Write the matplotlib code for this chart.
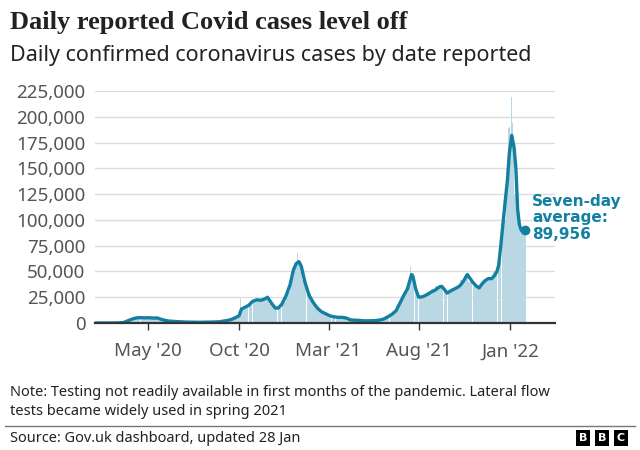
import pandas as pd
import matplotlib.pyplot as plt
import matplotlib.dates as mdates
from matplotlib.ticker import FuncFormatter
from matplotlib.lines import Line2D

# Seven-day average
avg_dates = [
    "2020-02-01", "2020-02-29", "2020-03-14", "2020-03-21", "2020-03-28",
    "2020-04-04", "2020-04-11", "2020-04-18", "2020-04-25", "2020-05-02",
    "2020-05-09", "2020-05-16", "2020-05-23", "2020-05-30", "2020-06-06",
    "2020-06-20", "2020-07-04", "2020-07-25", "2020-08-15", "2020-08-29",
    "2020-09-12", "2020-09-19", "2020-09-26", "2020-10-01", "2020-10-05",
    "2020-10-10", "2020-10-17", "2020-10-24", "2020-10-31", "2020-11-07",
    "2020-11-14", "2020-11-18", "2020-11-25", "2020-12-01", "2020-12-06",
    "2020-12-12", "2020-12-19", "2020-12-26",
    "2021-01-01", "2021-01-06", "2021-01-10", "2021-01-14", "2021-01-20",
    "2021-01-27", "2021-02-03", "2021-02-10", "2021-02-17", "2021-02-24",
    "2021-03-03", "2021-03-10", "2021-03-17", "2021-03-24", "2021-03-31",
    "2021-04-07", "2021-04-14", "2021-04-21", "2021-04-28", "2021-05-05",
    "2021-05-12", "2021-05-19", "2021-05-26", "2021-06-02", "2021-06-09",
    "2021-06-16", "2021-06-23", "2021-06-30", "2021-07-07", "2021-07-12",
    "2021-07-15", "2021-07-19", "2021-07-21", "2021-07-26", "2021-07-31",
    "2021-08-07", "2021-08-14", "2021-08-21", "2021-08-28", "2021-09-04",
    "2021-09-08", "2021-09-11", "2021-09-17", "2021-09-24", "2021-10-01",
    "2021-10-06", "2021-10-10", "2021-10-15", "2021-10-21", "2021-10-26",
    "2021-10-31", "2021-11-05", "2021-11-10", "2021-11-15", "2021-11-20",
    "2021-11-25", "2021-12-01", "2021-12-06", "2021-12-10", "2021-12-13",
    "2021-12-16", "2021-12-20", "2021-12-24", "2021-12-28", "2021-12-31",
    "2022-01-04", "2022-01-08", "2022-01-11", "2022-01-14", "2022-01-17",
    "2022-01-20", "2022-01-24", "2022-01-27",
]
avg_values = [
    0, 20, 150, 600, 2300,
    3900, 5000, 5200, 5000, 5100,
    4800, 4900, 3500, 2400, 1800,
    1300, 900, 700, 900, 1200,
    2500, 3600, 5500, 7000, 13500,
    15000, 17000, 21000, 22500, 22000,
    23500, 25000, 19000, 14500, 14500,
    18000, 26000, 37000,
    52000, 58000, 59500, 55000, 40000,
    27000, 20000, 14500, 11000, 9000,
    7000, 6000, 5500, 5500, 4800,
    3000, 2700, 2600, 2200, 2100,
    2200, 2300, 2800, 3800, 6000,
    8500, 12000, 20000, 28000, 33000,
    39000, 47000, 46000, 33000, 25000,
    25500, 27500, 30000, 32000, 35000,
    35500, 33500, 29000, 31500, 33500,
    35000, 37000, 41000, 47000, 43000,
    39000, 36000, 34000, 38000, 41000,
    43000, 43000, 46000, 50000, 56000,
    72000, 95000, 118000, 140000, 165000,
    182000, 170000, 150000, 110000, 95000,
    90000, 89000, 89956,
]

# Daily cases shown as weekly blocks (one value per week from 1 Feb 2020)
bar_start = "2020-02-01"
bar_values = [
    0, 0, 0, 10, 40, 150, 400, 1500, 3000,                      # Feb-Mar 20
    4500, 5000, 5000, 5000, 4800, 4500, 3500, 2500, 1800,       # Apr-May 20
    1500, 1200, 1100, 900, 750, 650, 700, 750,                  # Jun-Jul 20
    850, 1000, 1100, 1200, 1500, 2800, 3500, 4800, 6500,        # Aug-Sep 20
    15000, 16500, 20000, 22500, 23000, 24000, 25000, 18500,     # Oct-Nov 20
    14500, 15500, 20500, 30000, 45000,                          # Dec 20
    58000, 57000, 42000, 29000, 20000, 14500, 11000, 9000,      # Jan-Feb 21
    7000, 6000, 5500, 5500, 4500, 3000, 2700, 2500, 2200,       # Mar-Apr 21
    2200, 2300, 2400, 3000, 4500, 6500, 8500, 12000, 19000,     # May-Jun 21
    27000, 35000, 45000, 32000, 25500, 27000, 30000, 33000,     # Jul-Aug 21
    36000, 35000, 30000, 30500, 34000, 36000, 42000, 46000,     # Sep-Oct 21
    40000, 36000, 35000, 39000, 42000, 44000,                   # Oct-Nov 21
    50000, 62000, 100000, 150000, 180000, 125000, 92000, 88000  # Dec 21-Jan 22
]

# Single days that stand out above the average
spike_dates = ["2020-10-04", "2020-11-12", "2021-01-08", "2021-07-17",
               "2021-12-29", "2021-12-31", "2022-01-04", "2022-01-05"]
spike_values = [22961, 33470, 68053, 54674, 189000, 190000, 218724, 194000]

line_col = "#1380A1"
bar_col = "#b9d8e3"
sans = ["Noto Sans", "DejaVu Sans"]

plt.rcParams["font.family"] = sans

fig = plt.figure(figsize=(6.4, 4.5), dpi=100)
ax = fig.add_axes([95 / 640, 1 - 323 / 450, 460 / 640, 232 / 450])

bar_dates = pd.date_range(bar_start, periods=len(bar_values), freq="7D")
ax.bar(bar_dates, bar_values, width=6.6, align="edge", color=bar_col,
       linewidth=0, zorder=2)
ax.bar(pd.to_datetime(spike_dates), spike_values, width=1.2, color=bar_col,
       linewidth=0, zorder=2)

avg_x = pd.to_datetime(avg_dates)
ax.plot(avg_x, avg_values, color=line_col, lw=2.4, solid_joinstyle="round",
        solid_capstyle="round", zorder=4)
ax.plot(avg_x[-1], avg_values[-1], "o", color=line_col, ms=6, zorder=5)

ax.text(avg_x[-1] + pd.Timedelta(days=11), avg_values[-1] + 12000,
        "Seven-day\naverage:\n{:,}".format(avg_values[-1]),
        color=line_col, fontsize=11, fontweight="bold", va="center",
        ha="left", linespacing=1.15, zorder=6, family=["DejaVu Sans"])

ax.set_xlim(pd.Timestamp("2020-02-01"), pd.Timestamp("2022-03-18"))
ax.set_ylim(0, 225000)
ax.set_yticks(range(0, 225001, 25000))
ax.yaxis.set_major_formatter(FuncFormatter(lambda v, p: "{:,.0f}".format(v)))
ax.grid(axis="y", color="#dddddd", lw=1, zorder=0)
ax.set_axisbelow(True)

ticks = pd.to_datetime(["2020-05-01", "2020-10-01", "2021-03-01",
                        "2021-08-01", "2022-01-01"])
ax.set_xticks(ticks)
ax.xaxis.set_major_formatter(mdates.DateFormatter("%b '%y"))

for s in ["top", "right", "left"]:
    ax.spines[s].set_visible(False)
ax.spines["bottom"].set_color("#333333")
ax.spines["bottom"].set_linewidth(1.6)
ax.spines["bottom"].set_zorder(6)

ax.tick_params(axis="y", length=0, pad=7, labelsize=13.5, labelcolor="#555555")
ax.tick_params(axis="x", length=5, width=1, color="#333333", pad=9,
               labelsize=13.5, labelcolor="#555555")

fig.text(10 / 640, 1 - 22 / 450, "Daily reported Covid cases level off",
         family=["Liberation Serif"], fontweight="bold", fontsize=19,
         color="#222222", va="center")
fig.text(10 / 640, 1 - 55 / 450,
         "Daily confirmed coronavirus cases by date reported",
         fontsize=15.5, color="#222222", va="center")

fig.text(10 / 640, 1 - 402 / 450,
         "Note: Testing not readily available in first months of the pandemic. Lateral flow\n"
         "tests became widely used in spring 2021",
         fontsize=10.5, color="#222222", va="center", linespacing=1.3)

fig.add_artist(Line2D([5 / 640, 635 / 640], [1 - 426 / 450, 1 - 426 / 450],
                      color="#777777", lw=1, transform=fig.transFigure))

fig.text(10 / 640, 1 - 438 / 450, "Source: Gov.uk dashboard, updated 28 Jan",
         fontsize=10.5, color="#222222", va="center")

for i, letter in enumerate("BBC"):
    fig.text((583 + i * 19) / 640, 1 - 438 / 450, letter, color="white",
             fontsize=8, fontweight="bold", ha="center", va="center",
             family=["DejaVu Sans"],
             bbox=dict(boxstyle="square,pad=0.25", fc="black", ec="none"))

fig.savefig("out.png", dpi=100)
